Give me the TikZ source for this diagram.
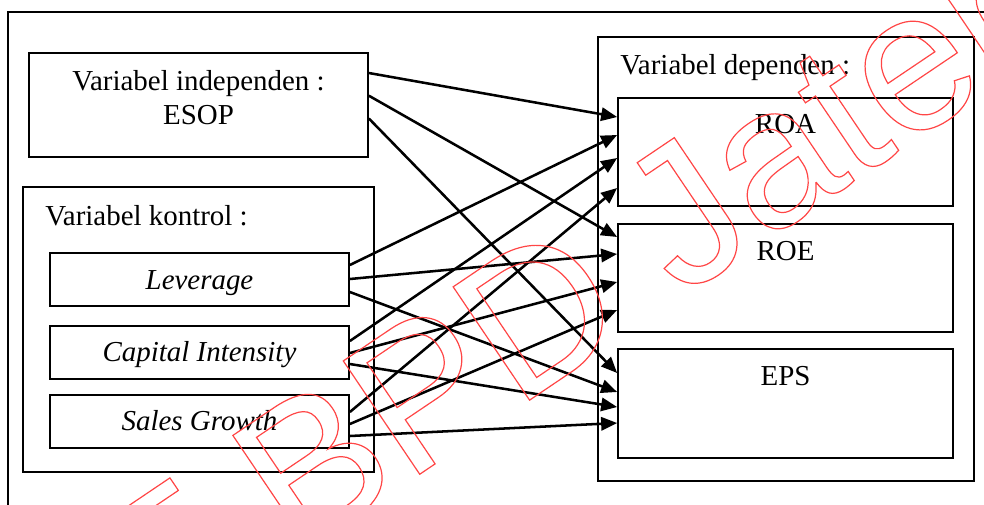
\documentclass[tikz,border=0pt]{standalone}
\usepackage{fontspec}
\setmainfont{Liberation Serif}
\newfontfamily\stampfont{Liberation Sans}
\usetikzlibrary{arrows.meta,calc,fit}
\definecolor{stampred}{RGB}{255,70,70}
% outlined (stroked, unfilled) glyphs for the stamp
\newcommand\outlinetext[1]{\special{pdf:literal direct 1 Tr 0.9 w}#1\special{pdf:literal direct 0 Tr}}

\begin{document}
\begin{tikzpicture}[x=0.75pt,y=-0.75pt,
  box/.style={draw,line width=1.3pt,inner sep=0pt},
  lbl/.style={font=\fontsize{21.7}{26}\selectfont,inner sep=0pt},
  link/.style={line width=1.9pt,-{Triangle[length=12pt,width=10pt]}},
  stamp/.style={rotate=34,inner sep=0pt,text=stampred,
    font=\stampfont\fontsize{149}{149}\selectfont},
]
\useasboundingbox (0,0) rectangle (984,504);
\clip (0,0) rectangle (984,504);

% outer frame
\draw[line width=1.3pt] (8,530) -- (8,12) -- (1010,12);

% independent variable
\node[box,fit={(29,53) (368,157)}] (esop) {};
\node[lbl,anchor=base] (esopt1) at (198.5,90.7) {Variabel independen :};
\node[lbl,anchor=base] (esopt2) at (198.5,124) {ESOP};

% control variables
\node[box,fit={(23,187) (374,472)}] (ctrl) {};
\node[lbl,anchor=base west] (ctrlt) at (45,225) {Variabel kontrol :};
\node[box,fit={(50,253) (349,306)}] (lev) {};
\node[lbl,anchor=base] (levt) at ($(lev.north)+(0,37)$) {\itshape Leverage};
\node[box,fit={(50,326) (349,379)}] (ci) {};
\node[lbl,anchor=base] (cit) at ($(ci.north)+(0,36)$) {\itshape Capital Intensity};
\node[box,fit={(50,395) (349,448)}] (sg) {};
\node[lbl,anchor=base] (sgt) at ($(sg.north)+(0,36)$) {\itshape Sales Growth};

% dependent variables
\node[box,fit={(598,37) (974,481)}] (dep) {};
\node[lbl,anchor=base west] (dept) at (620,74) {Variabel dependen :};
\node[box,fit={(618,98) (953,206)}] (roa) {};
\node[lbl,anchor=base] (roat) at ($(roa.north)+(0,36.5)$) {ROA};
\node[box,fit={(618,224) (953,332)}] (roe) {};
\node[lbl,anchor=base] (roet) at ($(roe.north)+(0,37.5)$) {ROE};
\node[box,fit={(618,349) (953,458)}] (eps) {};
\node[lbl,anchor=base] (epst) at ($(eps.north)+(0,37.5)$) {EPS};

% arrows from ESOP
\draw[link] ($(esop.east)+(0,-32)$) -- ($(roa.west)+(0,-35)$);
\draw[link] ($(esop.east)+(0,-9.3)$) -- ($(roe.west)+(0,-41)$);
\draw[link] ($(esop.east)+(0,13.5)$) -- ($(eps.west)+(0,-30.5)$);

% arrows from Leverage
\draw[link] ($(lev.east)+(0,-14.5)$) -- ($(roa.west)+(0,-17)$);
\draw[link] ($(lev.east)+(0,-0.5)$) -- ($(roe.west)+(0,-24)$);
\draw[link] ($(lev.east)+(0,12.5)$) -- ($(eps.west)+(0,-11.5)$);

% arrows from Capital Intensity
\draw[link] ($(ci.east)+(0,-11.5)$) -- ($(roa.west)+(0,6)$);
\draw[link] ($(ci.east)+(0,0.5)$) -- ($(roe.west)+(0,4)$);
\draw[link] ($(ci.east)+(0,11.5)$) -- ($(eps.west)+(0,3.5)$);

% arrows from Sales Growth
\draw[link] ($(sg.east)+(0,-9.5)$) -- ($(roa.west)+(0,36)$);
\draw[link] ($(sg.east)+(0,2.5)$) -- ($(roe.west)+(0,32)$);
\draw[link] ($(sg.east)+(0,14.5)$) -- ($(eps.west)+(0,19.5)$);

% stamp across the figure
\node[stamp,anchor=base east] (stampa) at (406,483.5) {\outlinetext{UPT B}};
\node[stamp,anchor=base west] (stampb) at (406,483.5) {\outlinetext{PD Jateng}};
\end{tikzpicture}
\end{document}
